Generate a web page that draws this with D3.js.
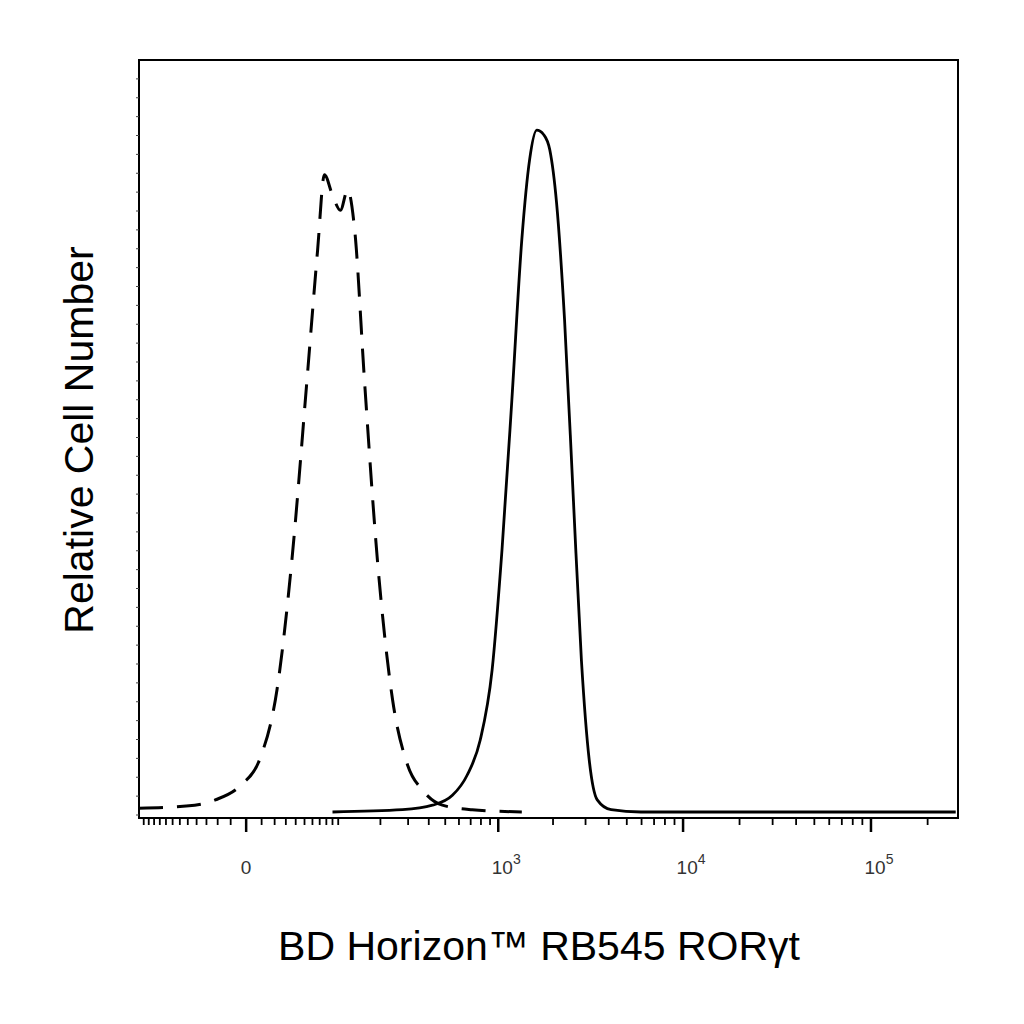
<!DOCTYPE html>
<html><head><meta charset="utf-8">
<script src="https://cdn.jsdelivr.net/npm/d3@7"></script>
<style>body{margin:0;background:#fff}</style></head>
<body><svg id="c" width="1024" height="1024"></svg>
<script>
const isotypeX = [-130,-42,-22,-3,8.5,22,36,53,67,77,90,104,118,133,156,191,240,298,367,481,714,1350];
const isotypeY = [0.9,1.3,2,4,7.3,16.6,33.8,57.6,74.8,84.8,82.1,80.1,82.8,77.5,57.6,33.8,15.2,6.6,3.3,1.3,0.7,0.4];
const stainX = [90,277,421,550,669,792,924,1049,1190,1350,1490,1630,1780,1920,2090,2310,2580,2850,3140,3470,4120,5950,282000];
const stainY = [0.4,0.7,1.3,2.6,5.3,9.9,19.2,35.1,55,76.2,86.8,90.7,90.1,88.1,81.1,65.6,41.7,20.5,7.3,2,0.7,0.4,0.4];
const majorTicks = [0,1000,10000,100000];
const majorLabels = ["0","3","4","5"];

const svg = d3.select("#c");
const L=139,R=958,T=60,B=818;
const x = d3.scaleSymlog().constant(48).domain([-130,290000]).range([L,R]);
const y = d3.scaleLinear().domain([0,100]).range([815,T]);

svg.append("rect").attr("x",L).attr("y",T).attr("width",R-L).attr("height",B-T)
  .attr("fill","none").attr("stroke","#000").attr("stroke-width",2);

const minor=[];
for(let v=-120;v<0;v+=10) minor.push(v);
for(let v=10;v<100;v+=10) minor.push(v);
for(let v=100;v<1000;v+=100) minor.push(v);
[1000,10000,100000].forEach(d=>{for(let k=2;k<10;k++) if(d*k<290000) minor.push(d*k);});
const g=svg.append("g");
g.selectAll(".mn").data(minor).enter().append("line")
 .attr("x1",d=>x(d)).attr("x2",d=>x(d)).attr("y1",B).attr("y2",B+7).attr("stroke","#000").attr("stroke-width",1.8);
g.selectAll(".mj").data(majorTicks).enter().append("line")
 .attr("x1",d=>x(d)).attr("x2",d=>x(d)).attr("y1",B).attr("y2",B+14).attr("stroke","#000").attr("stroke-width",2.5);
g.selectAll(".ym").data(d3.range(0,100,2.5)).enter().append("line")
 .attr("x1",L).attr("x2",L-3).attr("y1",d=>y(d)).attr("y2",d=>y(d)).attr("stroke","#444").attr("stroke-width",1);

majorTicks.forEach((d,i)=>{
  const t=svg.append("text").attr("x",x(d)+(i?8:0)).attr("y",B+56).attr("text-anchor","middle")
   .attr("font-family","Liberation Sans, Arial").attr("font-size",19).attr("fill","#333");
  if(i===0){t.text("0");}
  else{t.append("tspan").text("10");
    t.append("tspan").attr("dy",-10).attr("font-size",14).text(majorLabels[i]);}
});

const line=d3.line().x(d=>x(d[0])).y(d=>y(d[1])).curve(d3.curveMonotoneX);
svg.append("path").datum(isotypeX.map((v,i)=>[v,isotypeY[i]])).attr("d",line)
 .attr("fill","none").attr("stroke","#000").attr("stroke-width",3).attr("stroke-dasharray","24,14");
svg.append("path").datum(stainX.map((v,i)=>[v,stainY[i]])).attr("d",line)
 .attr("fill","none").attr("stroke","#000").attr("stroke-width",2.8);

svg.append("text").attr("x",539).attr("y",960).attr("text-anchor","middle")
 .attr("font-family","Liberation Sans, Arial").attr("font-size",41).text("BD Horizon™ RB545 RORγt");
svg.append("text").attr("transform","translate(93,440) rotate(-90)").attr("text-anchor","middle")
 .attr("font-family","Liberation Sans, Arial").attr("font-size",41).text("Relative Cell Number");
</script></body></html>
